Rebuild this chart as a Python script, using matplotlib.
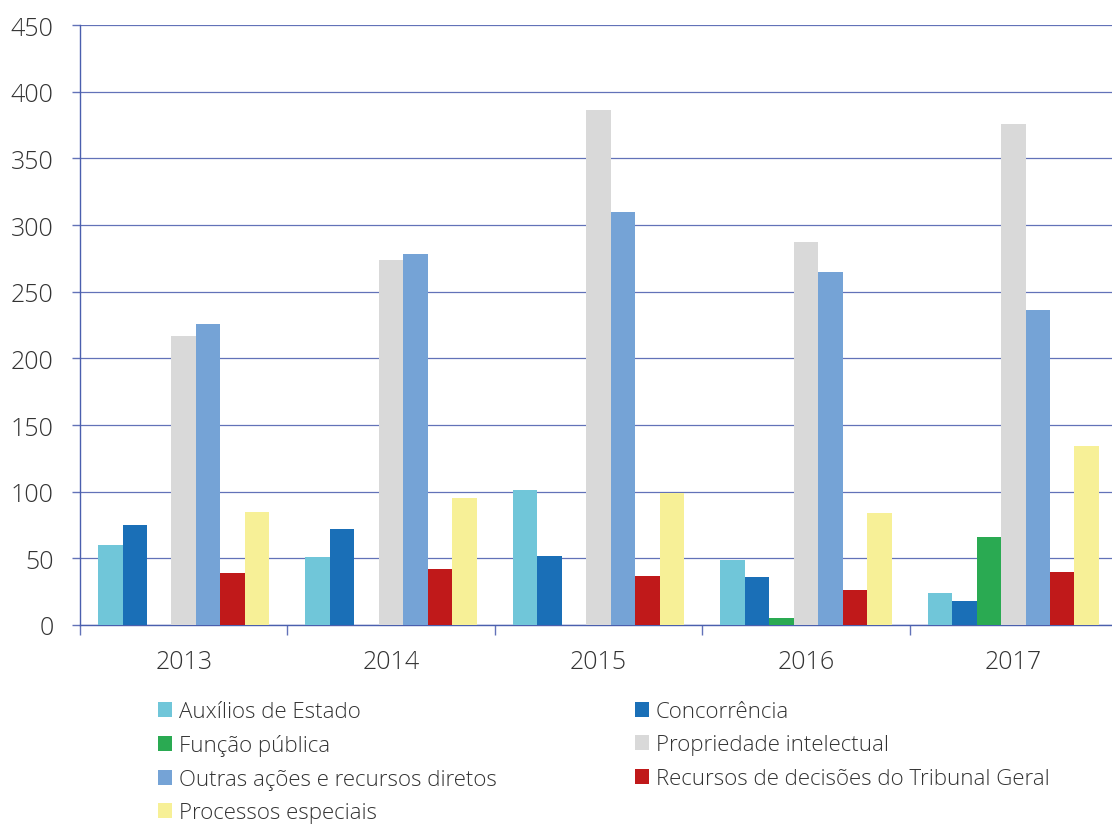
import matplotlib

matplotlib.use("Agg")
import matplotlib.pyplot as plt
import numpy as np
from matplotlib.patches import Patch

years = ["2013", "2014", "2015", "2016", "2017"]
series_names = [
    "Auxílios de Estado",
    "Concorrência",
    "Função pública",
    "Propriedade intelectual",
    "Outras ações e recursos diretos",
    "Recursos de decisões do Tribunal Geral",
    "Processos especiais",
]
auxilios = [60, 51, 101, 49, 24]
concorrencia = [75, 72, 52, 36, 18]
funcao_publica = [0, 0, 0, 5, 66]
propriedade = [217, 274, 386, 287, 376]
outras = [226, 278, 310, 265, 236]
recursos_tg = [39, 42, 37, 26, 40]
especiais = [85, 95, 99, 84, 134]
y_ticks = [0, 50, 100, 150, 200, 250, 300, 350, 400, 450]

colors = ["#70C6D9", "#1A6FB7", "#2AAA52", "#D9D9D9", "#75A3D6", "#C0191A", "#F7F097"]
values = [auxilios, concorrencia, funcao_publica, propriedade, outras, recursos_tg, especiais]

plt.rcParams["font.family"] = ["Open Sans", "DejaVu Sans"]
text_color = "#333333"
grid_color = "#6272B8"

fig = plt.figure(figsize=(11.12, 8.28), dpi=100)
ax = fig.add_axes([80 / 1112, 202 / 828, 1037 / 1112, 600 / 828])

x = np.arange(len(years))
width = 0.118
n = len(values)
for k, (vals, col) in enumerate(zip(values, colors)):
    offs = (k - (n - 1) / 2) * width
    ax.bar(x + offs, vals, width=width, color=col, zorder=3, linewidth=0)

ax.set_xlim(-0.5, len(years) - 0.5)
ax.set_ylim(0, 450)
ax.set_yticks(y_ticks)
ax.set_yticklabels([str(v) for v in y_ticks], fontsize=18, color=text_color, fontweight="light")
ax.set_xticks(x)
ax.set_xticklabels(years, fontsize=18, color=text_color, fontweight="light")
ax.set_xticks(np.arange(len(years) + 1) - 0.5, minor=True)

ax.tick_params(axis="x", which="major", length=0, pad=17)
ax.tick_params(axis="x", which="minor", length=7, color=grid_color, width=1)
ax.tick_params(axis="y", length=6, color=grid_color, width=1, pad=13)

ax.grid(axis="y", color=grid_color, linewidth=0.9, zorder=0)
ax.set_axisbelow(True)
for s in ["top", "right"]:
    ax.spines[s].set_visible(False)
ax.spines["left"].set_color("#4A5FAE")
ax.spines["bottom"].set_color("#4A5FAE")
ax.spines["left"].set_linewidth(1)
ax.spines["bottom"].set_linewidth(1)

# legend in row order, matplotlib fills column-wise
order = [0, 2, 4, 6, 1, 3, 5]
handles = [Patch(facecolor=colors[i], edgecolor="none") for i in order]
labels = [series_names[i] for i in order]
leg = fig.legend(
    handles,
    labels,
    loc="upper left",
    bbox_to_anchor=(158 / 1112, 1 - 702 / 828),
    ncol=2,
    frameon=False,
    fontsize=16,
    handlelength=0.65,
    handleheight=0.65,
    handletextpad=0.3,
    labelspacing=0.56,
    columnspacing=6.2,
    borderpad=0,
    borderaxespad=0,
)
for t in leg.get_texts():
    t.set_color(text_color)
    t.set_fontweight("light")

fig.savefig("out.png", dpi=100)
